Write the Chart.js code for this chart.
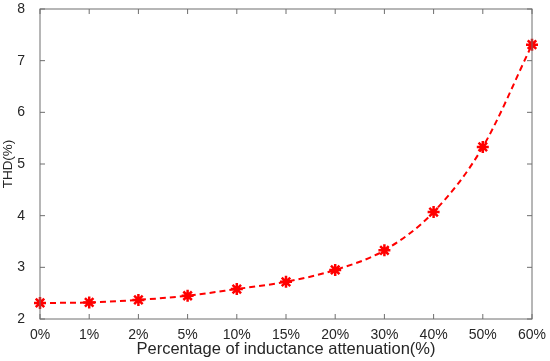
<!DOCTYPE html>
<html>
<head>
<meta charset="utf-8">
<script src="https://cdn.jsdelivr.net/npm/chart.js@4"></script>
<style>
    html, body { margin: 0; padding: 0; background: #fff; }
    #wrap { width: 550px; height: 361px; }
</style>
</head>
<body>
<div id="wrap"><canvas id="thdChart"></canvas></div>
<script>

const attenuation = ['0%', '1%', '2%', '5%', '10%', '15%', '20%', '30%', '40%', '50%', '60%'];
const thdValues = [2.31, 2.32, 2.37, 2.45, 2.58, 2.72, 2.95, 3.33, 4.07, 5.33, 7.31];
const yTicks = [2, 3, 4, 5, 6, 7, 8];

// box round the plot with little inward ticks, like matlab
const boxTicks = {
    id: 'boxTicks',
    afterDraw(chart) {
        const ctx = chart.ctx;
        const a = chart.chartArea;
        const xs = chart.scales.x;
        const ys = chart.scales.y;
        const len = 5;
        ctx.save();
        ctx.strokeStyle = '#6e6e6e';
        ctx.lineWidth = 1;
        ctx.strokeRect(a.left, a.top, a.right - a.left, a.bottom - a.top);
        ctx.beginPath();
        attenuation.forEach(function (c, i) {
            const px = xs.getPixelForValue(i);
            ctx.moveTo(px, a.bottom);
            ctx.lineTo(px, a.bottom - len);
            ctx.moveTo(px, a.top);
            ctx.lineTo(px, a.top + len);
        });
        yTicks.forEach(function (v) {
            const py = ys.getPixelForValue(v);
            ctx.moveTo(a.left, py);
            ctx.lineTo(a.left + len, py);
            ctx.moveTo(a.right, py);
            ctx.lineTo(a.right - len, py);
        });
        ctx.stroke();
        ctx.restore();
    }
};

Chart.defaults.font.family = '"Liberation Sans", Arial, sans-serif';
Chart.defaults.color = '#262626';

new Chart(document.getElementById('thdChart'), {
    type: 'line',
    data: {
        labels: attenuation,
        datasets: [{
            data: thdValues,
            borderColor: '#ff0000',
            backgroundColor: '#ff0000',
            borderWidth: 2,
            borderDash: [6, 4],
            cubicInterpolationMode: 'monotone',
            pointStyle: 'star',
            pointRadius: 6,
            pointBorderWidth: 2.5,
            pointBorderColor: '#ff0000'
        }]
    },
    options: {
        responsive: true,
        maintainAspectRatio: false,
        animation: false,
        layout: {
            padding: { top: 9, right: 18, left: 0, bottom: 0 }
        },
        plugins: {
            legend: { display: false },
            tooltip: { enabled: false }
        },
        scales: {
            x: {
                grid: { display: false },
                border: { display: false },
                ticks: { font: { size: 14 }, padding: 0, maxRotation: 0, autoSkip: false },
                title: {
                    display: true,
                    text: 'Percentage of inductance attenuation(%)',
                    font: { size: 16.5 },
                    padding: { top: 0, bottom: 2 }
                },
                afterFit(scale) {
                    scale.height = 42;
                    scale.paddingRight = 0;
                }
            },
            y: {
                min: 2,
                max: 8,
                grid: { display: false },
                border: { display: false },
                afterBuildTicks(scale) {
                    scale.ticks = yTicks.map(function (v) { return { value: v }; });
                },
                ticks: { font: { size: 14 }, padding: 7 },
                title: {
                    display: true,
                    text: 'THD(%)',
                    font: { size: 13.5 },
                    padding: { top: 0, bottom: 4 }
                },
                afterFit(scale) {
                    scale.width = 40;
                    scale.paddingTop = 0;
                    scale.paddingBottom = 0;
                }
            }
        }
    },
    plugins: [boxTicks]
});

</script>
</body>
</html>
